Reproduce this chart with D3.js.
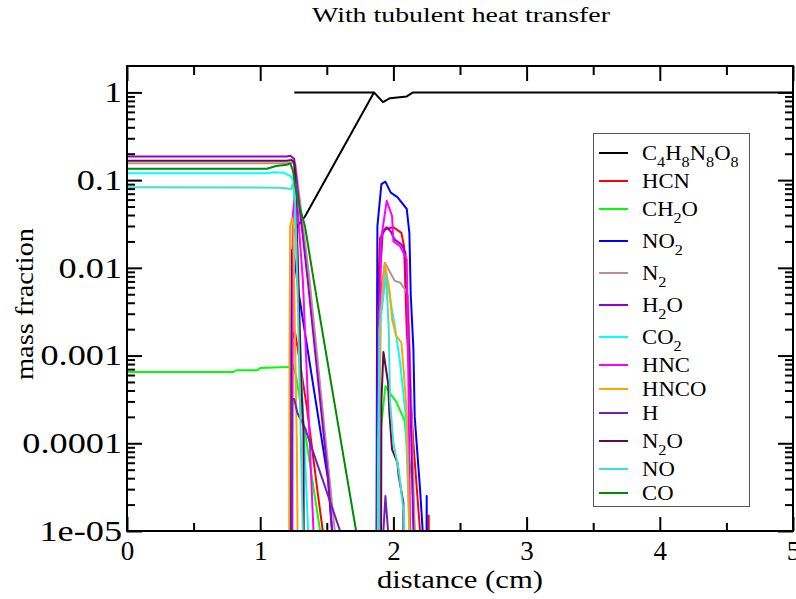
<!DOCTYPE html>
<html>
<head>
<meta charset="utf-8">
<script src="https://cdn.jsdelivr.net/npm/d3@7"></script>
<style>
  body { margin: 0; background: #fff; }
  text { font-family: "Liberation Serif", "Times New Roman", serif; fill: #000; }
</style>
</head>
<body>
<svg id="chart" width="796" height="599"></svg>
<script>
// species, legend order = draw order
var species = ["C4H8N8O8", "HCN", "CH2O", "NO2", "N2", "H2O", "CO2", "HNC", "HNCO", "H", "N2O", "NO", "CO"];
var colors = ["#000000", "#ff0000", "#00ff00", "#0000ff", "#bc8f8f", "#9400d3", "#00ffff",
              "#ff00ff", "#ffa500", "#7221bc", "#670748", "#40e0d0", "#008b00"];

// [distance (cm), mass fraction]; null splits a curve
var hmx = [[1.256, 1], [1.86, 1], null,
  [1.23, 1e-7], [1.232, 0.001], [1.24, 0.012], [1.25, 0.026], [1.336, 0.0385], [1.854, 1.0],
  [1.922, 0.775], [1.974, 0.86], [2.1, 0.9], [2.147, 1.0], [5, 1.0]];
var hcn = [[1.235, 1e-7], [1.238, 0.0015], [1.26, 0.0019], [1.275, 0.0014], [1.35, 2.6e-4], [1.435, 2.5e-5], [1.47, 1e-5], [1.5, 2e-6], null,
  [1.88, 1e-7], [1.885, 0.005], [1.9, 0.022], [1.94, 0.0275], [2.0, 0.029], [2.06, 0.025], [2.08, 0.0177], [2.1, 0.002], [2.15, 1e-4], [2.2, 1e-5], [2.21, 1e-7], null,
  [2.26, 1e-7], [2.265, 1.5e-5], [2.27, 1e-7]];
var ch2o = [[0, 0.00065], [0.8, 0.00065], [0.82, 0.00068], [0.98, 0.00068], [1.0, 0.00072], [1.2, 0.00074], [1.23, 0.00075], [1.245, 0.00078], [1.27, 0.00058], [1.36, 7.8e-5], [1.45, 1e-5], [1.48, 4e-6], null,
  [1.89, 1e-7], [1.895, 1e-4], [1.94, 4.5e-4], [1.975, 3.7e-4], [2.02, 3e-4], [2.085, 1.8e-4], [2.1, 1e-4], [2.14, 3.9e-5], [2.16, 1e-5], [2.17, 1e-7]];
var no2 = [[1.23, 1e-7], [1.235, 0.003], [1.24, 0.016], [1.26, 0.012], [1.29, 0.005], [1.32, 0.0026], [1.51, 3.8e-5], [1.55, 6e-6], null,
  [1.87, 1e-7], [1.875, 1e-4], [1.878, 0.005], [1.88, 0.03], [1.91, 0.09], [1.94, 0.096], [1.98, 0.072], [2.03, 0.064], [2.1, 0.047], [2.12, 0.025], [2.13, 0.005], [2.15, 0.0012], [2.16, 2e-4], [2.2, 3e-5], [2.22, 1e-5], [2.23, 1e-7], null,
  [2.245, 1e-7], [2.25, 2.5e-5], [2.255, 1e-7]];
var n2 = [[0, 0.156], [1.2, 0.156], [1.24, 0.158], [1.265, 0.15], [1.37, 0.0074], [1.56, 1e-5], [1.6, 3e-6], null,
  [1.88, 1e-7], [1.885, 0.003], [1.935, 0.0114], [1.97, 0.0092], [2.01, 0.0071], [2.05, 0.0068], [2.09, 0.0056], [2.11, 0.0048], [2.13, 0.0005], [2.16, 1e-5], [2.17, 1e-7]];
var h2o = [[0, 0.186], [1.2, 0.186], [1.225, 0.19], [1.255, 0.175], [1.36, 0.0065], [1.51, 4e-5], [1.54, 1e-5], [1.57, 4e-6], null,
  [1.88, 1e-7], [1.882, 0.003], [1.92, 0.026], [1.95, 0.029], [1.98, 0.026], [2.01, 0.021], [2.06, 0.0186], [2.09, 0.015], [2.12, 0.001], [2.15, 1e-5], [2.16, 1e-7]];
var co2 = [[0, 0.12], [1.05, 0.12], [1.1, 0.123], [1.18, 0.121], [1.23, 0.11], [1.25, 0.098], [1.28, 0.0065], [1.36, 1e-5], [1.38, 3e-6], null,
  [1.88, 1e-7], [1.885, 1e-4], [1.9, 0.003], [1.945, 0.0088], [1.985, 0.0036], [2.01, 0.0022], [2.05, 0.00084], [2.09, 2.2e-4], [2.12, 1e-5], [2.13, 1e-7]];
var hnc = [[1.24, 1e-7], [1.245, 0.04], [1.27, 0.09], [1.29, 0.03], [1.32, 0.0074], [1.40, 1e-5], [1.42, 3e-6], null,
  [1.895, 1e-7], [1.9, 0.001], [1.905, 0.02], [1.95, 0.058], [1.99, 0.039], [2.0, 0.02], [2.05, 0.0177], [2.1, 0.0125], [2.11, 0.0012], [2.125, 1e-5], [2.13, 1e-7]];
var hnco = [[1.215, 1e-7], [1.22, 0.001], [1.225, 0.03], [1.24, 0.037], [1.25, 0.03], [1.26, 0.002], [1.275, 1e-4], [1.29, 1e-7], null,
  [1.885, 1e-7], [1.89, 5e-5], [1.905, 0.003], [1.935, 0.011], [1.97, 0.0057], [1.99, 0.0026], [2.02, 0.0017], [2.06, 0.0014], [2.08, 0.0006], [2.1, 2.2e-4], [2.12, 1e-5], [2.13, 1e-7]];
var h = [[1.23, 1e-7], [1.24, 3.2e-4], [1.255, 3.2e-4], [1.28, 2.2e-4], [1.336, 1.5e-4], [1.6, 1e-5], [1.65, 4e-6], null,
  [1.91, 1e-7], [1.925, 1e-5], [1.94, 2.5e-5], [1.96, 1e-5], [1.975, 1e-7]];
var n2o = [[0, 0.166], [1.2, 0.166], [1.235, 0.17], [1.255, 0.16], [1.27, 0.05], [1.29, 0.005], [1.31, 4e-4], [1.325, 1.4e-4], [1.33, 1e-7], null,
  [1.905, 1e-7], [1.91, 3e-4], [1.925, 0.0011], [1.96, 4.9e-4], [1.97, 2.2e-4], [1.99, 8.5e-5], [2.03, 6e-5], [2.04, 4.2e-5], [2.075, 2.1e-5], [2.078, 1e-7]];
var no = [[0, 0.083], [1.15, 0.082], [1.235, 0.079], [1.245, 0.092], [1.26, 0.075], [1.28, 0.006], [1.32, 1e-5], [1.34, 3e-6], null,
  [1.89, 1e-7], [1.895, 0.002], [1.945, 0.0085], [1.965, 0.002], [1.975, 3e-4], [2.0, 1e-4], [2.04, 5e-5], [2.08, 1.5e-5], [2.09, 1e-7]];
var co = [[0, 0.135], [1.05, 0.135], [1.12, 0.145], [1.2, 0.15], [1.225, 0.155], [1.245, 0.13], [1.28, 0.06], [1.336, 0.03], [1.4, 0.0075], [1.72, 1e-5], [1.75, 5e-6]];

var seriesData = [hmx, hcn, ch2o, no2, n2, h2o, co2, hnc, hnco, h, n2o, no, co];

var xTickVals = [0, 1, 2, 3, 4, 5];
var xMinorVals = [0.5, 1.5, 2.5, 3.5, 4.5];
var yTickVals = [1e-5, 1e-4, 1e-3, 0.01, 0.1, 1];
var yTickLabels = ["1e-05", "0.0001", "0.001", "0.01", "0.1", "1"];

var plotLeft = 127, plotRight = 793, plotTop = 66, plotBottom = 531;

var svg = d3.select("#chart");

var x = d3.scaleLinear().domain([0, 5]).range([plotLeft, plotRight]);
var y = d3.scaleLog().domain([1e-5, 2]).range([plotBottom, plotTop]);

// minor log ticks 2..9 in each decade
var yMinorVals = [];
yTickVals.slice(0, 5).forEach(function(d) {
    for (var k = 2; k <= 9; k++) yMinorVals.push(d * k);
});

// widen a text by a factor, keeping its anchor
function stretch(sel, f) {
    sel.each(function() {
        var w = this.getComputedTextLength();
        d3.select(this).attr("textLength", w * f).attr("lengthAdjust", "spacingAndGlyphs");
    });
}

svg.append("clipPath").attr("id", "plotClip")
    .append("rect")
    .attr("x", plotLeft).attr("y", plotTop)
    .attr("width", plotRight - plotLeft).attr("height", plotBottom - plotTop);

var line = d3.line()
    .defined(function(d) { return d != null; })
    .x(function(d) { return x(d[0]); })
    .y(function(d) { return y(Math.max(d[1], 1e-8)); });

svg.append("g")
    .attr("clip-path", "url(#plotClip)")
    .selectAll("path")
    .data(seriesData)
    .enter().append("path")
    .attr("d", line)
    .attr("fill", "none")
    .attr("stroke", function(d, i) { return colors[i]; })
    .attr("stroke-width", 2)
    .attr("stroke-linejoin", "round");

// axes, ticks pointing inward
function styleAxis(g) {
    g.selectAll(".domain").remove();
    g.selectAll(".tick line").attr("stroke", "#000").attr("stroke-width", 2);
    g.selectAll("text").style("font-size", "27px").attr("fill", "#000");
}

svg.append("g").attr("transform", "translate(0," + plotBottom + ")")
    .call(d3.axisBottom(x).tickValues(xTickVals).tickSizeInner(-14).tickSizeOuter(0).tickPadding(10).tickFormat(d3.format("d")))
    .call(styleAxis);
svg.append("g").attr("transform", "translate(0," + plotBottom + ")")
    .call(d3.axisBottom(x).tickValues(xMinorVals).tickSizeInner(-8).tickSizeOuter(0).tickFormat(""))
    .call(styleAxis);
svg.append("g").attr("transform", "translate(0," + plotTop + ")")
    .call(d3.axisTop(x).tickValues(xTickVals).tickSizeInner(-15).tickSizeOuter(0).tickFormat(""))
    .call(styleAxis);
svg.append("g").attr("transform", "translate(0," + plotTop + ")")
    .call(d3.axisTop(x).tickValues(xMinorVals).tickSizeInner(-9).tickSizeOuter(0).tickFormat(""))
    .call(styleAxis);

var yAxisG = svg.append("g").attr("transform", "translate(" + plotLeft + ",0)")
    .call(d3.axisLeft(y).tickValues(yTickVals).tickSizeInner(-15).tickSizeOuter(0).tickPadding(5)
        .tickFormat(function(d, i) { return yTickLabels[i]; }))
    .call(styleAxis);
yAxisG.selectAll("text").style("font-size", "29px").call(stretch, 1.25);

svg.append("g").attr("transform", "translate(" + plotLeft + ",0)")
    .call(d3.axisLeft(y).tickValues(yMinorVals).tickSizeInner(-8).tickSizeOuter(0).tickFormat(""))
    .call(styleAxis);
svg.append("g").attr("transform", "translate(" + plotRight + ",0)")
    .call(d3.axisRight(y).tickValues(yTickVals).tickSizeInner(-15).tickSizeOuter(0).tickFormat(""))
    .call(styleAxis);
svg.append("g").attr("transform", "translate(" + plotRight + ",0)")
    .call(d3.axisRight(y).tickValues(yMinorVals).tickSizeInner(-8).tickSizeOuter(0).tickFormat(""))
    .call(styleAxis);

// frame
svg.append("rect")
    .attr("x", plotLeft).attr("y", plotTop)
    .attr("width", plotRight - plotLeft).attr("height", plotBottom - plotTop)
    .attr("fill", "none").attr("stroke", "#000").attr("stroke-width", 2);

// title and axis titles
svg.append("text")
    .attr("x", 461).attr("y", 22)
    .attr("text-anchor", "middle")
    .attr("textLength", 298).attr("lengthAdjust", "spacingAndGlyphs")
    .style("font-size", "20px")
    .text("With tubulent heat transfer");

svg.append("text")
    .attr("x", 460).attr("y", 588)
    .attr("text-anchor", "middle")
    .attr("textLength", 166).attr("lengthAdjust", "spacingAndGlyphs")
    .style("font-size", "26px")
    .text("distance (cm)");

svg.append("text")
    .attr("transform", "translate(33,304) rotate(-90)")
    .attr("text-anchor", "middle")
    .attr("textLength", 152).attr("lengthAdjust", "spacingAndGlyphs")
    .style("font-size", "26px")
    .text("mass fraction");

// legend
var legend = svg.append("g");
legend.append("rect")
    .attr("x", 593.5).attr("y", 133.5)
    .attr("width", 156).attr("height", 373)
    .attr("fill", "#fff").attr("stroke", "#555").attr("stroke-width", 1);

var hasSub = species.map(function(s) { return /\d/.test(s); });
var legendY = [153];
for (var i = 1; i < species.length; i++) {
    legendY.push(legendY[i - 1] + 24 + (hasSub[i - 1] ? 4 : 0) + (hasSub[i] ? 4 : 0));
}

var items = legend.selectAll(".item")
    .data(species)
    .enter().append("g")
    .attr("class", "item")
    .attr("transform", function(d, i) { return "translate(0," + legendY[i] + ")"; });

items.append("line")
    .attr("x1", 599).attr("x2", 628)
    .attr("stroke", function(d, i) { return colors[i]; })
    .attr("stroke-width", 2);

items.append("text")
    .attr("x", 642).attr("y", 7)
    .style("font-size", "21px")
    .each(function(d) {
        var t = d3.select(this);
        var parts = d.match(/\d+|\D+/g);
        var shifted = false;
        parts.forEach(function(p) {
            var ts = t.append("tspan").text(p);
            if (/\d/.test(p)) {
                ts.attr("dy", shifted ? 0 : 7).style("font-size", "15px");
                shifted = true;
            } else if (shifted) {
                ts.attr("dy", -7);
                shifted = false;
            }
        });
    })
    .call(stretch, 1.08);
</script>
</body>
</html>
